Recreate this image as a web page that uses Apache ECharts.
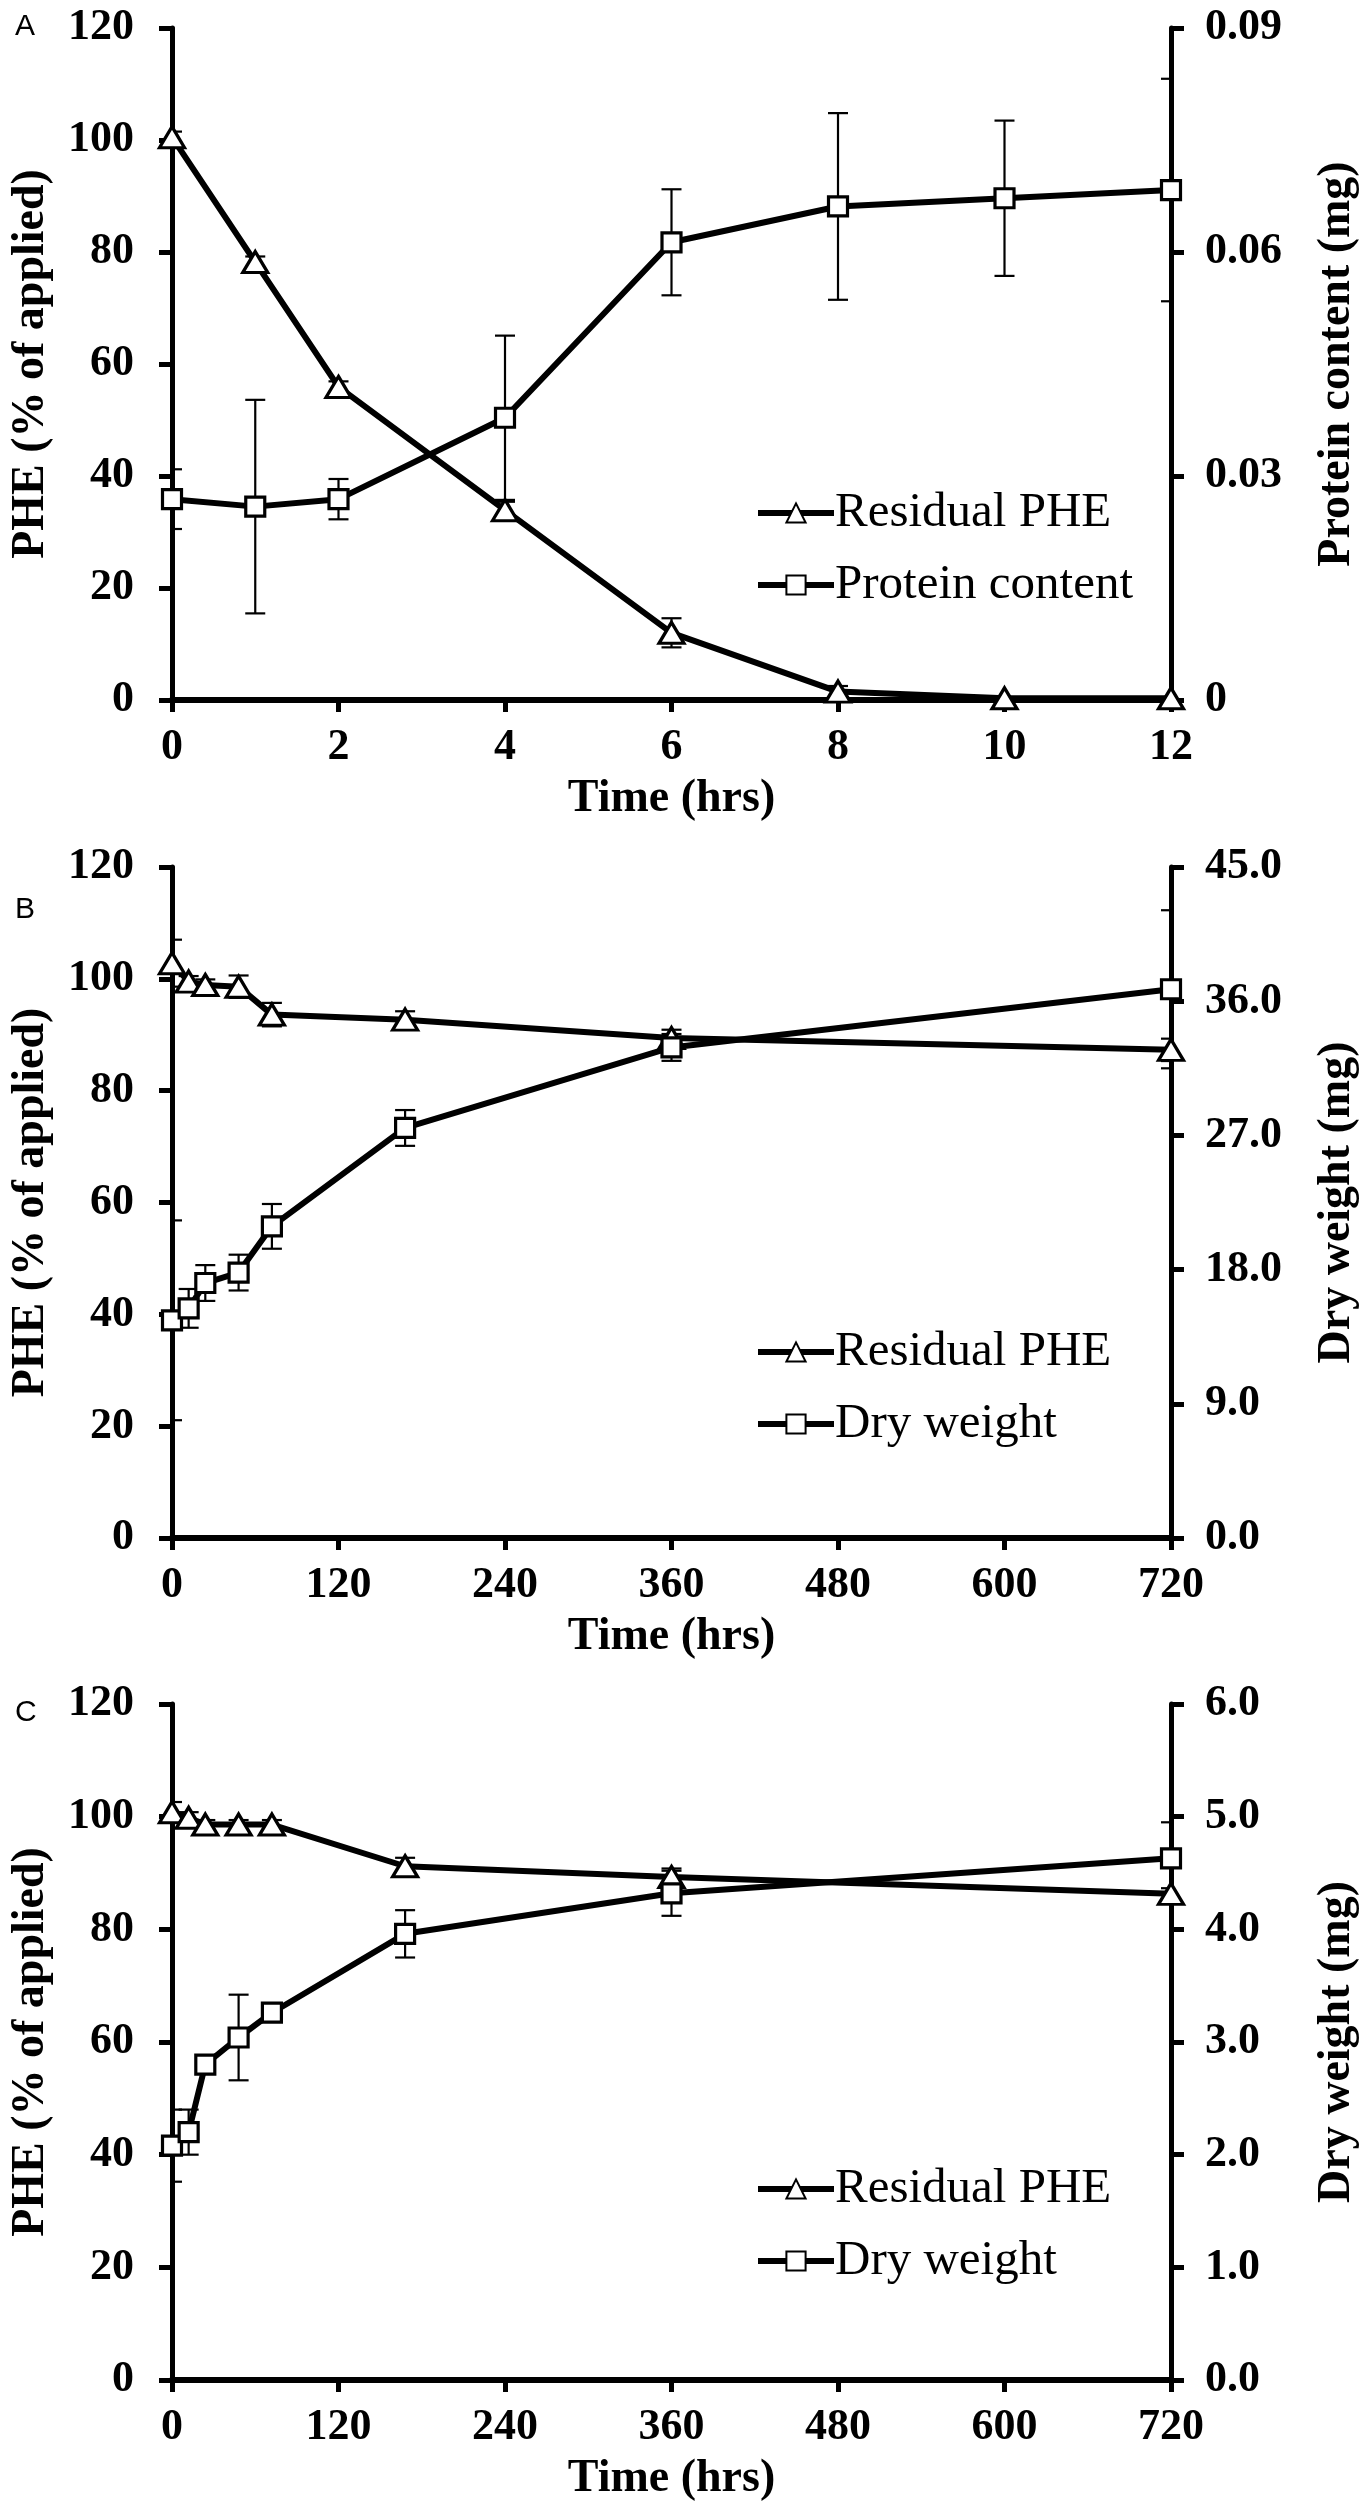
<!DOCTYPE html>
<html>
<head>
<meta charset="utf-8">
<script src="https://cdn.jsdelivr.net/npm/echarts@6/dist/echarts.min.js"></script>
<style>
  html, body { margin: 0; padding: 0; background: #fff; }
  #chart { width: 1370px; height: 2510px; }
</style>
</head>
<body>
<div id="chart"></div>
<script>
// panel A: 0-12 hrs, protein content
var hoursA = [0, 1, 2, 4, 6, 8, 10, 12];
var pheA = [100.5, 78.2, 55.9, 33.9, 12.0, 1.5, 0.3, 0.3];
var pheErrA = [1.0, 1.0, 1.0, 1.5, 2.6, 1.0, 0.2, 0.2];
var proteinA = [0.0269, 0.0259, 0.0269, 0.0378, 0.0613, 0.0661, 0.0672, 0.0683];
var proteinErrA = [0.0040, 0.0143, 0.0027, 0.0110, 0.0071, 0.0125, 0.0104, 0.0149];

// panel B: 0-720 hrs, dry weight
var hoursB = [0, 12, 24, 48, 72, 168, 360, 720];
var pheB = [102.8, 99.5, 98.9, 98.6, 93.6, 92.7, 89.4, 87.3];
var pheErrB = [4.2, 1.0, 1.0, 2.0, 2.1, 1.5, 1.5, 2.0];
var dryB = [14.6, 15.4, 17.1, 17.8, 20.9, 27.5, 32.9, 36.8];
var dryErrB = [6.7, 1.3, 1.2, 1.2, 1.5, 1.2, 0.9, 5.3];

// panel C: 0-720 hrs, dry weight
var hoursC = [0, 12, 24, 48, 72, 168, 360, 720];
var pheC = [100.8, 99.8, 98.6, 98.6, 98.6, 91.2, 89.3, 86.3];
var pheErrC = [1.8, 1.0, 0.8, 0.8, 0.8, 1.5, 1.5, 1.0];
var dryC = [2.08, 2.20, 2.80, 3.04, 3.26, 3.96, 4.32, 4.63];
var dryErrC = [0.32, 0.20, 0.05, 0.38, 0.05, 0.21, 0.20, 0.32];

var panelLetters = ['A', 'B', 'C'];
var leftName = 'PHE (% of applied)';
var rightNames = ['Protein content (mg)', 'Dry weight (mg)', 'Dry weight (mg)'];
var xName = 'Time (hrs)';

var chart = echarts.init(document.getElementById('chart'));

var serif = '"Liberation Serif", "Times New Roman", serif';
var tops = [28, 867, 1704];
var heights = [672, 671, 676];

function pairs(xs, ys) {
  return xs.map(function (x, i) { return [x, ys[i]]; });
}
function errData(xs, ys, es) {
  return xs.map(function (x, i) { return [x, ys[i], es[i]]; });
}

function errorBars(name, idx, yIdx, data) {
  return {
    name: name,
    type: 'custom',
    xAxisIndex: idx,
    yAxisIndex: yIdx,
    z: 1,
    clip: true,
    silent: true,
    data: data,
    renderItem: function (params, api) {
      var x = api.value(0), y = api.value(1), e = api.value(2);
      var hi = api.coord([x, y + e]);
      var lo = api.coord([x, y - e]);
      var cap = 10;
      var st = { stroke: '#000', lineWidth: 2.2 };
      return {
        type: 'group',
        children: [
          { type: 'line', shape: { x1: hi[0], y1: hi[1], x2: lo[0], y2: lo[1] }, style: st },
          { type: 'line', shape: { x1: hi[0] - cap, y1: hi[1], x2: hi[0] + cap, y2: hi[1] }, style: st },
          { type: 'line', shape: { x1: lo[0] - cap, y1: lo[1], x2: lo[0] + cap, y2: lo[1] }, style: st }
        ]
      };
    }
  };
}

function lineSeries(name, idx, yIdx, data, symbol, size) {
  return {
    name: name,
    type: 'line',
    xAxisIndex: idx,
    yAxisIndex: yIdx,
    z: 3,
    data: data,
    symbol: symbol,
    symbolSize: size,
    showAllSymbol: true,
    lineStyle: { color: '#000', width: 6 },
    itemStyle: { color: '#fff', borderColor: '#000', borderWidth: 3.2 },
    emphasis: { disabled: true }
  };
}

var axisText = { fontFamily: serif, fontWeight: 'bold', fontSize: 44, color: '#000' };
var nameText = { fontFamily: serif, fontWeight: 'bold', fontSize: 46, color: '#000' };

var grids = [], xAxes = [], yAxes = [], legends = [], series = [], graphics = [];

var xConf = [
  { max: 12, interval: 2 },
  { max: 720, interval: 120 },
  { max: 720, interval: 120 }
];
var rightConf = [
  { max: 0.09, interval: 0.03, fmt: function (v) { return v === 0 ? '0' : v.toFixed(2); } },
  { max: 45, interval: 9, fmt: function (v) { return v.toFixed(1); } },
  { max: 6, interval: 1, fmt: function (v) { return v.toFixed(1); } }
];
var rightSeriesNames = ['Protein content', 'Dry weight', 'Dry weight'];
var panelData = [
  [hoursA, pheA, pheErrA, proteinA, proteinErrA],
  [hoursB, pheB, pheErrB, dryB, dryErrB],
  [hoursC, pheC, pheErrC, dryC, dryErrC]
];

for (var i = 0; i < 3; i++) {
  grids.push({ left: 171, right: 199, top: tops[i], height: heights[i] });

  xAxes.push({
    type: 'value', gridIndex: i, min: 0, max: xConf[i].max, interval: xConf[i].interval,
    name: xName, nameLocation: 'middle', nameGap: 76, nameTextStyle: nameText,
    axisLine: { show: true, onZero: false, lineStyle: { color: '#000', width: 6 } },
    axisTick: { show: true, inside: false, length: 12, lineStyle: { color: '#000', width: 5 } },
    axisLabel: Object.assign({ margin: 26 }, axisText),
    splitLine: { show: false }
  });

  yAxes.push({
    type: 'value', gridIndex: i, position: 'left', min: 0, max: 120, interval: 20,
    name: leftName, nameLocation: 'middle', nameGap: 118, nameRotate: 90, nameTextStyle: nameText,
    axisLine: { show: true, onZero: false, lineStyle: { color: '#000', width: 5 } },
    axisTick: { show: true, length: 13, lineStyle: { color: '#000', width: 5 } },
    axisLabel: Object.assign({ margin: 38 }, axisText),
    splitLine: { show: false }
  });

  yAxes.push({
    type: 'value', gridIndex: i, position: 'right', min: 0, max: rightConf[i].max, interval: rightConf[i].interval,
    name: rightNames[i], nameLocation: 'middle', nameGap: 143, nameRotate: 90, nameTextStyle: nameText,
    axisLine: { show: true, onZero: false, lineStyle: { color: '#000', width: 5 } },
    axisTick: { show: true, length: 13, lineStyle: { color: '#000', width: 5 } },
    axisLabel: Object.assign({ margin: 34, formatter: rightConf[i].fmt }, axisText),
    splitLine: { show: false }
  });

  var d = panelData[i];
  series.push(errorBars('phe-err-' + i, i, 2 * i, errData(d[0], d[1], d[2])));
  series.push(errorBars('right-err-' + i, i, 2 * i + 1, errData(d[0], d[3], d[4])));
  series.push(lineSeries('Residual PHE', i, 2 * i, pairs(d[0], d[1]), 'triangle', [25, 21]));
  series.push(lineSeries(rightSeriesNames[i], i, 2 * i + 1, pairs(d[0], d[3]), 'rect', 19));

  legends.push({
    orient: 'vertical',
    left: 750,
    top: tops[i] + 455,
    itemWidth: 76,
    itemHeight: 24,
    itemGap: 22,
    selectedMode: false,
    data: ['Residual PHE', rightSeriesNames[i]],
    lineStyle: { color: '#000', width: 6 },
    textStyle: { fontFamily: serif, fontSize: 49, color: '#000', lineHeight: 50, padding: [0, 0, 0, -4] }
  });

  graphics.push({
    type: 'text',
    left: 15,
    top: [12, 895, 1698][i],
    style: { text: panelLetters[i], font: '30px "Liberation Sans", Arial, sans-serif', fill: '#000' }
  });
}

var option = {
  backgroundColor: '#fff',
  animation: false,
  grid: grids,
  xAxis: xAxes,
  yAxis: yAxes,
  legend: legends,
  series: series,
  graphic: graphics
};

chart.setOption(option);
</script>
</body>
</html>
